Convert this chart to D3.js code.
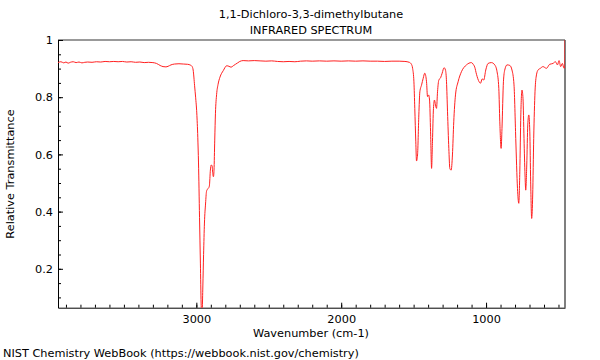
<!DOCTYPE html>
<html>
<head>
<meta charset="utf-8">
<script src="https://cdn.jsdelivr.net/npm/d3@7"></script>
<style>
html,body{margin:0;padding:0;background:#fff;}
svg{display:block;font-family:"DejaVu Sans",sans-serif;}
</style>
</head>
<body>
<svg id="chart" width="600" height="360"></svg>
<script>
const titleLines = ["1,1-Dichloro-3,3-dimethylbutane", "INFRARED SPECTRUM"];
const xLabel = "Wavenumber (cm-1)";
const yLabel = "Relative Transmittance";
const footer = "NIST Chemistry WebBook (https://webbook.nist.gov/chemistry)";

const xTickValues = [3000, 2000, 1000];
const yTickValues = [0.2, 0.4, 0.6, 0.8, 1];

const wavenumbers = [
 3955,3935,3915,3900,3885,3870,3850,3830,3810,3790,3770,3750,3720,3690,3660,3630,3600,3570,3540,3510,
 3480,3450,3420,3390,3360,3330,3300,3275,3250,3230,3210,3195,3175,3150,3120,3090,3060,3040,3030,3022,
 3012,3005,2997,2990,2985,2978,2972,2967,2963,2959,2955,2950,2944,2936,2930,2924,2916,2910,2903,2897,
 2891,2886,2882,2878,2873,2868,2860,2850,2837,2814,2790,2775,2760,2745,2730,2715,2700,2677,2640,2600,
 2560,2520,2480,2440,2400,2360,2320,2280,2240,2200,2150,2100,2050,2000,1950,1900,1850,1800,1750,1700,
 1650,1600,1560,1530,1515,1507,1498,1492,1485,1480,1473,1464,1457,1445,1434,1423,1411,1404,1397,1390,
 1383,1376,1370,1363,1356,1349,1342,1335,1326,1314,1303,1290,1280,1273,1266,1257,1250,1241,1232,1223,
 1211,1193,1170,1135,1101,1090,1078,1066,1048,1038,1027,1016,1002,986,963,940,924,912,905,896,
 890,880,871,855,836,821,807,795,783,774,767,760,752,745,738,731,726,719,712,705,
 698,692,685,678,671,662,652,641,625,607,583,561,538,521,507,496,485,473,462,457,455
];
const transmittance = [
 0.921,0.924,0.920,0.923,0.919,0.922,0.924,0.921,0.923,0.920,0.922,0.923,0.922,0.924,0.923,0.925,0.924,0.925,0.924,0.925,
 0.923,0.924,0.922,0.923,0.921,0.922,0.921,0.918,0.911,0.907,0.906,0.908,0.913,0.916,0.917,0.916,0.915,0.912,0.908,0.895,
 0.840,0.800,0.745,0.660,0.570,0.380,0.220,0.080,0.040,0.060,0.140,0.250,0.360,0.430,0.470,0.478,0.482,0.490,0.545,0.563,
 0.560,0.530,0.522,0.545,0.650,0.744,0.810,0.845,0.870,0.893,0.910,0.908,0.905,0.910,0.915,0.920,0.925,0.928,0.927,0.928,
 0.927,0.926,0.927,0.925,0.924,0.925,0.924,0.926,0.927,0.926,0.927,0.926,0.927,0.926,0.927,0.926,0.927,0.926,0.926,0.925,
 0.926,0.926,0.925,0.922,0.915,0.901,0.854,0.761,0.644,0.577,0.598,0.738,0.819,0.843,0.866,0.884,0.854,0.802,0.808,0.790,
 0.679,0.551,0.644,0.761,0.790,0.773,0.761,0.819,0.860,0.868,0.884,0.903,0.895,0.854,0.749,0.621,0.551,0.545,0.598,0.714,
 0.808,0.854,0.889,0.913,0.921,0.916,0.905,0.880,0.854,0.849,0.864,0.860,0.895,0.918,0.921,0.913,0.889,0.831,0.714,0.621,
 0.691,0.854,0.895,0.913,0.911,0.895,0.843,0.656,0.481,0.429,0.539,0.738,0.825,0.796,0.656,0.528,0.475,0.563,0.703,0.738,
 0.679,0.504,0.376,0.458,0.656,0.819,0.878,0.895,0.901,0.907,0.901,0.915,0.918,0.924,0.913,0.928,0.907,0.918,0.901,0.905,1.0
];

const svg = d3.select("#chart");
const pLeft = 58, pRight = 565, pTop = 40, pBottom = 307.7;
const fs = 11.3;

const x = d3.scaleLinear().domain([3955, 455]).range([pLeft, pRight]);
const y = d3.scaleLinear().domain([0.064, 1]).range([pBottom, pTop]);

// clip
svg.append("defs").append("clipPath").attr("id", "clip")
  .append("rect").attr("x", pLeft).attr("y", pTop).attr("width", pRight - pLeft).attr("height", pBottom - pTop);

// frame top and right
svg.append("line").attr("x1", pLeft).attr("x2", pRight).attr("y1", pTop).attr("y2", pTop)
  .attr("stroke", "#999").attr("stroke-width", 2);
svg.append("line").attr("x1", pRight).attr("x2", pRight).attr("y1", pTop).attr("y2", pBottom)
  .attr("stroke", "#555").attr("stroke-width", 1.5);

// minor ticks
const yMinor = d3.range(0.1, 1.0001, 0.05).map(v => +v.toFixed(2));
const xMinor = d3.range(500, 3951, 100);

const yMinorAxis = svg.append("g").attr("transform", `translate(${pLeft},0)`)
  .call(d3.axisLeft(y).tickValues(yMinor).tickSize(-3).tickFormat(""));
yMinorAxis.select(".domain").remove();
const xMinorAxis = svg.append("g").attr("transform", `translate(0,${pBottom})`)
  .call(d3.axisBottom(x).tickValues(xMinor).tickSize(-3).tickFormat(""));
xMinorAxis.select(".domain").remove();

// major axes
const yAxis = svg.append("g").attr("transform", `translate(${pLeft},0)`)
  .call(d3.axisLeft(y).tickValues(yTickValues).tickSize(-5).tickSizeOuter(0).tickPadding(5).tickFormat(d3.format("~g")));
const xAxis = svg.append("g").attr("transform", `translate(0,${pBottom})`)
  .call(d3.axisBottom(x).tickValues(xTickValues).tickSize(-5).tickSizeOuter(0).tickPadding(7).tickFormat(d3.format("d")));
[yAxis, xAxis, yMinorAxis, xMinorAxis].forEach(g => {
  g.selectAll("text").attr("font-size", fs).attr("font-family", "DejaVu Sans").attr("fill", "#000");
  g.selectAll("line").attr("stroke", "#000");
  g.select(".domain").attr("stroke", "#000");
});

// spectrum
const data = wavenumbers.map((w, i) => ({w, t: transmittance[i]}));
const line = d3.line().x(d => x(d.w)).y(d => y(d.t)).curve(d3.curveMonotoneX);
svg.append("path").datum(data).attr("d", line)
  .attr("clip-path", "url(#clip)")
  .attr("fill", "none").attr("stroke", "#ff2020").attr("stroke-width", 1);

// texts
svg.append("text").attr("x", 311).attr("y", 18).attr("text-anchor", "middle")
  .attr("font-size", fs).text(titleLines[0]);
svg.append("text").attr("x", 311).attr("y", 34).attr("text-anchor", "middle")
  .attr("font-size", fs).text(titleLines[1]);
svg.append("text").attr("x", 311).attr("y", 337).attr("text-anchor", "middle")
  .attr("font-size", fs).text(xLabel);
svg.append("text").attr("transform", "translate(14,174) rotate(-90)").attr("text-anchor", "middle")
  .attr("font-size", fs).text(yLabel);
svg.append("text").attr("x", 3).attr("y", 357).attr("font-size", fs).text(footer);
</script>
</body>
</html>
